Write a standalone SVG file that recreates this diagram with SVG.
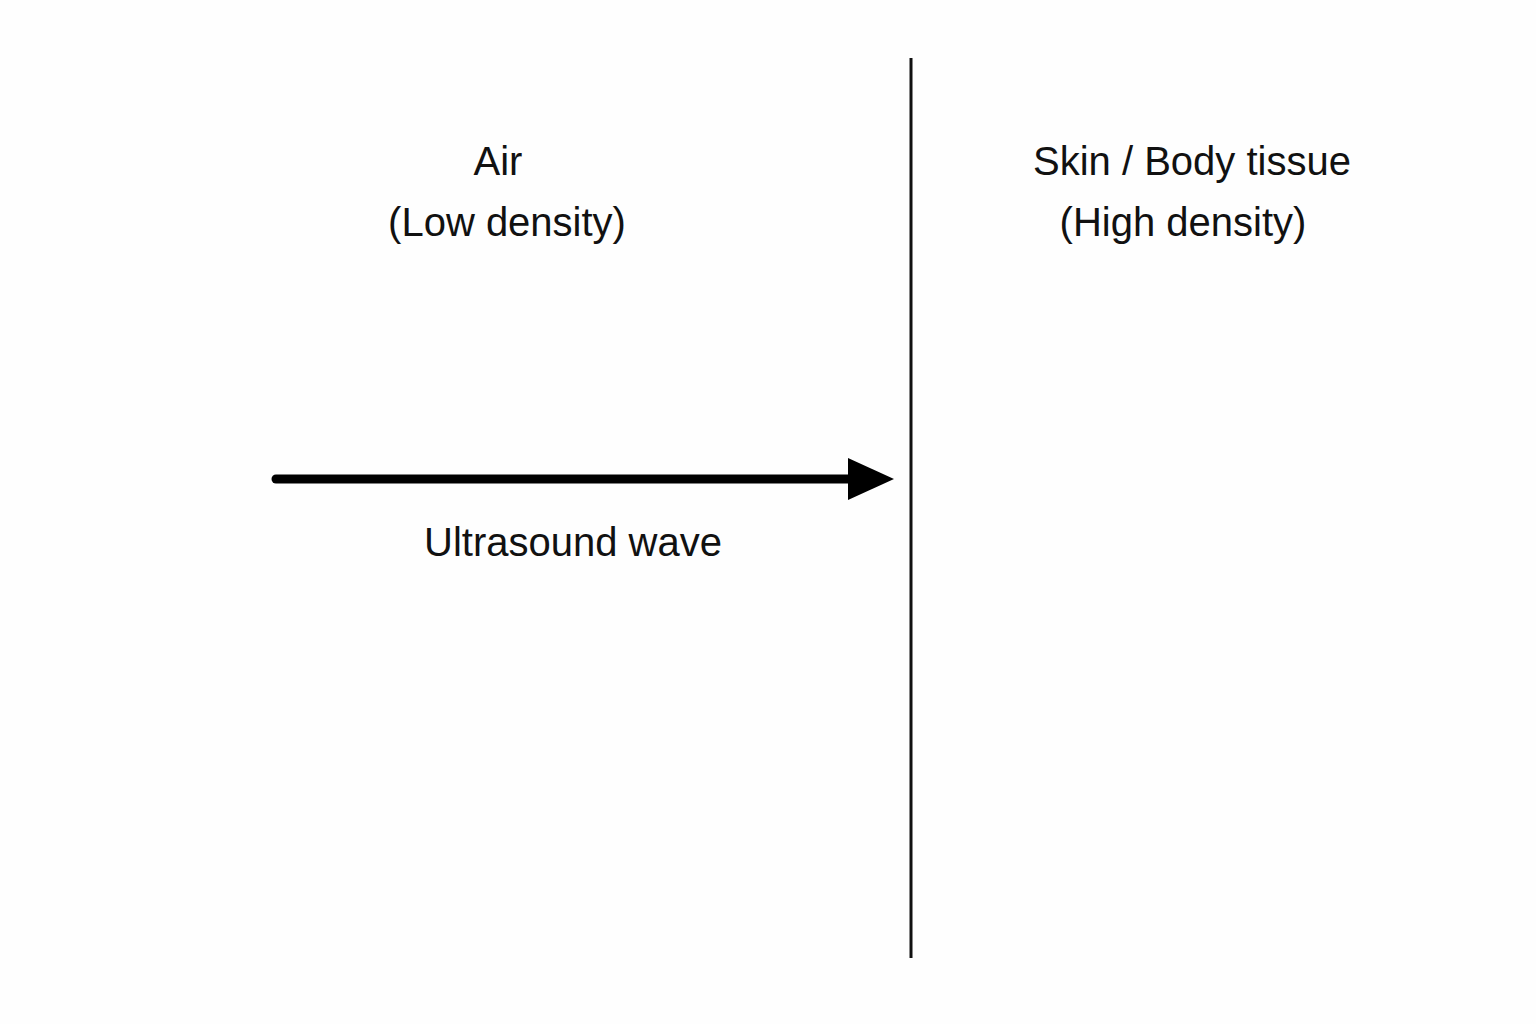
<svg xmlns="http://www.w3.org/2000/svg" width="1536" height="1024" viewBox="0 0 1536 1024">
<style>
text{font-family:"Liberation Sans",Arial,sans-serif;font-size:40px;fill:#111;text-anchor:middle}
</style>
<rect width="1536" height="1024" fill="#fefefe"/>
<g id="boundary"><line x1="911" y1="58" x2="911" y2="958" stroke="#111" stroke-width="3"/></g>
<g id="air"><text x="498" y="175">Air</text><text x="507" y="236">(Low density)</text></g>
<g id="tissue"><text x="1192" y="175">Skin / Body tissue</text><text x="1183" y="236">(High density)</text></g>
<g id="connectors">
<line x1="276" y1="479" x2="852" y2="479" stroke="#000" stroke-width="9" stroke-linecap="round"/>
<polygon points="848,458 894,479 848,500" fill="#000"/>
</g>
<g id="wave-label"><text x="573" y="556">Ultrasound wave</text></g>
</svg>
